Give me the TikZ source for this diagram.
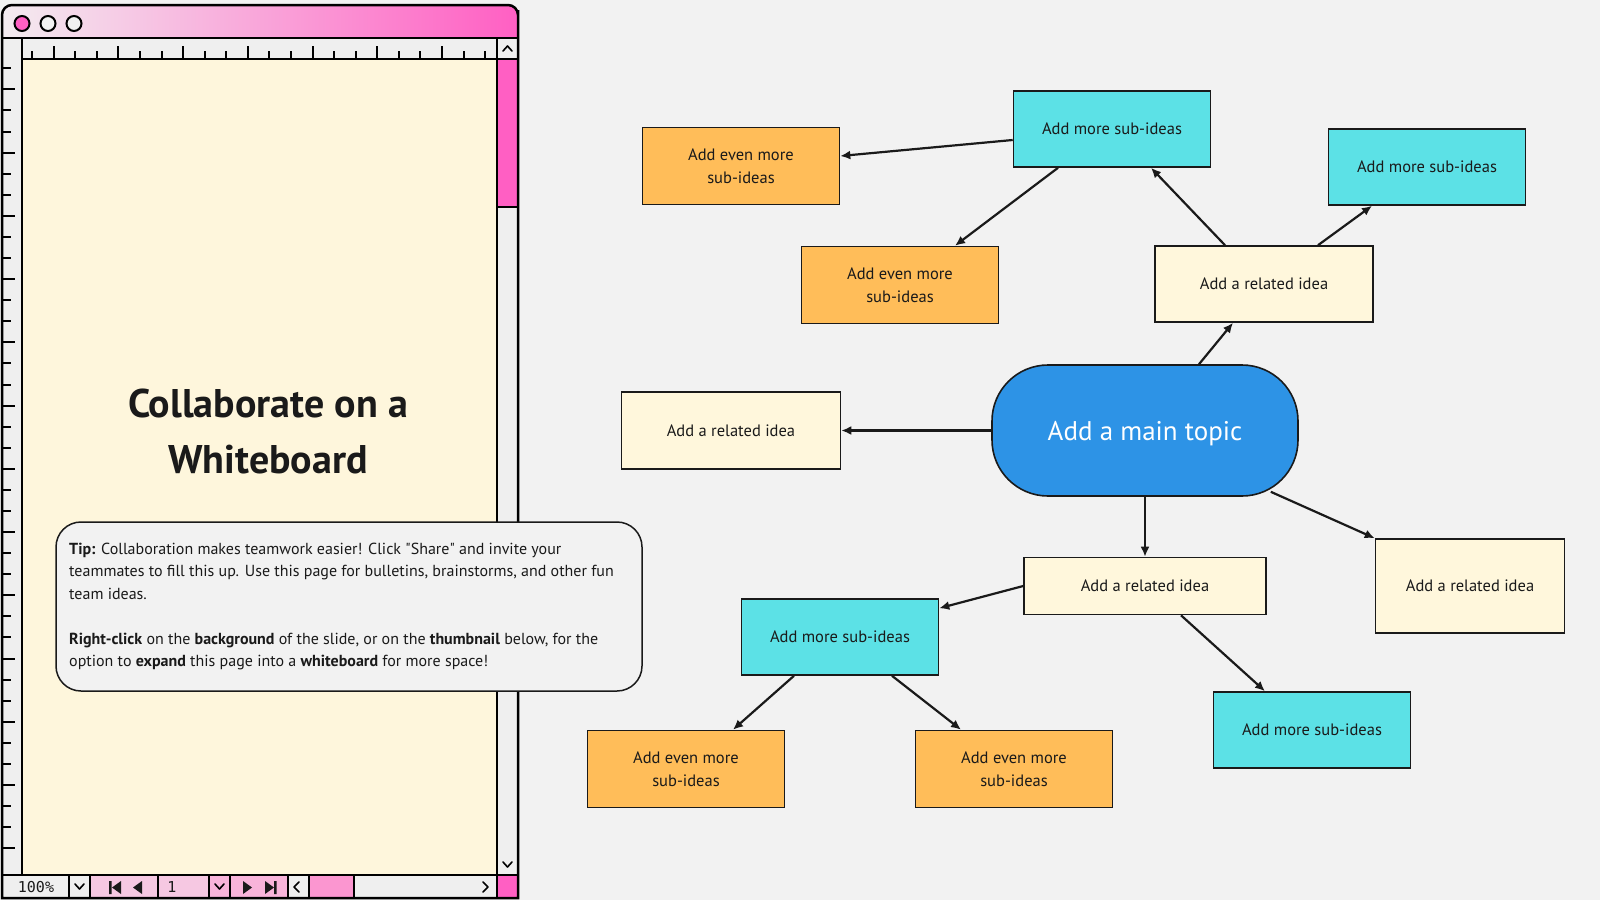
\documentclass[tikz,border=0pt]{standalone}
\usepackage{fontspec}
\setmainfont{PT Sans}
\newfontfamily\monofont{DejaVu Sans Mono}
\usetikzlibrary{arrows.meta}
\definecolor{canvas}{HTML}{F2F2F2}
\definecolor{paper}{HTML}{FEF6DC}
\definecolor{chrome}{HTML}{EFEFEF}
\definecolor{hotpink}{HTML}{FF5FC3}
\definecolor{pinkA}{HTML}{F6C8E2}
\definecolor{pinkB}{HTML}{F8B4DA}
\definecolor{pinkC}{HTML}{FB96D0}
\definecolor{paletop}{HTML}{F3ECF0}
\definecolor{midtop}{HTML}{F7BDDD}
\definecolor{topic}{HTML}{2D93E6}
\definecolor{cyanbox}{HTML}{5CE1E6}
\definecolor{orangebox}{HTML}{FFBD59}
\definecolor{creambox}{HTML}{FFF7DC}
\definecolor{ink}{HTML}{1A1A1A}

\begin{document}
\begin{tikzpicture}[x=1pt,y=-1pt,
  box/.style={draw=ink,line width=1.6pt,text=ink,inner sep=0pt,align=center,font=\fontsize{16.5}{23.5}\selectfont},
  idea/.style={box,fill=creambox},
  subidea/.style={box,fill=cyanbox,minimum width=197pt,minimum height=76pt},
  moreidea/.style={box,fill=orangebox,minimum width=197pt,minimum height=77pt},
  link/.style={draw=ink,line width=2.2pt,-{Latex[length=10pt,width=9pt]}},
  ruletick/.style={line width=2pt},
  chev/.style={line width=1.6pt,line cap=round,line join=round}]
\useasboundingbox (0,0) rectangle (1600,900);
\fill[canvas] (0,0) rectangle (1600,900);

\fill[paper] (22,59) rectangle (497,875);
\fill[chrome] (2,38) rectangle (497,59);
\fill[chrome] (2,59) rectangle (22,875);
\fill[chrome] (497,38) rectangle (518,875);
\fill[hotpink] (497,59) rectangle (518,207);
\shade[left color=paletop,middle color=midtop,right color=hotpink] (2,38) -- (2,20) [rounded corners=10pt] -- (2,5) -- (518,5) -- (518,20) [sharp corners] -- (518,38) -- cycle;
\foreach \i in {0,...,21}{
  \pgfmathsetmacro\len{mod(\i,3)==1 ? 13 : 8}
  \draw[ruletick] (32.1+21.57*\i,59) -- ++(0,-\len);
}
\foreach \i in {0,...,37}{
  \pgfmathsetmacro\len{mod(\i,3)==1 ? 13 : 9}
  \draw[ruletick] (2,68.3+21.08*\i) -- ++(\len,0);
}
\draw[line width=2pt] (2,38) -- (518,38) (22,38) -- (22,875) (497,38) -- (497,875) (22,59) -- (518,59) (497,207) -- (518,207);
\draw[chev] (503,51) -- (507.5,46) -- (512,51);
\draw[chev] (503,862) -- (507.5,867) -- (512,862);

\foreach \xa/\xb/\col in {2/69/chrome,69/90/chrome,90/158/pinkA,158/209/pinkA,209/230/pinkB,230/288/pinkB,288/309/chrome,309/354/pinkC,354/497/chrome,497/518/hotpink}
  \draw[fill=\col,line width=1.5pt] (\xa,875) rectangle (\xb,898);
\node[font=\monofont\fontsize{15}{15}\selectfont,text=ink] (zoom) at (36,887) {100\%};
\node[font=\monofont\fontsize{15}{15}\selectfont,text=ink] (pageno) at (172,887) {1};
\draw[chev] (75,884) -- (79.5,889) -- (84,884);
\draw[chev] (215,884) -- (219.5,889) -- (224,884);
\draw[chev] (299,882) -- (294,887) -- (299,892);
\draw[chev] (483,882) -- (488,887) -- (483,892);
\fill[ink] (109,881) rectangle (111.5,894) (121,881) -- (121,894) -- (112,887.5) -- cycle;
\fill[ink] (142,881) -- (142,894) -- (133,887.5) -- cycle;
\fill[ink] (243,881) -- (243,894) -- (252,887.5) -- cycle;
\fill[ink] (265,881) -- (265,894) -- (274,887.5) -- cycle (274,881) rectangle (276.5,894);

\draw[line width=2.5pt] (2,898) -- (2,20) [rounded corners=10pt] -- (2,5) -- (518,5) -- (518,20) [sharp corners] -- (518,898) -- cycle;
\draw[line width=2pt,fill=hotpink] (22,23.5) circle (7.5pt);
\draw[line width=2pt,fill=canvas] (48,23.5) circle (7.5pt) (74,23.5) circle (7.5pt);

\node[font=\bfseries\fontsize{40}{56}\selectfont,align=center,text=ink] (title) at (268,431) {Collaborate on a\\Whiteboard};

\draw[line width=1.5pt,draw=ink,fill=canvas,rounded corners=25pt] (56,522) rectangle (642,691);
\node[anchor=west,align=left,inner sep=0pt,text=ink,font=\fontsize{16}{22.5}\selectfont] (tip) at (69,606.5) {\textbf{Tip:} Collaboration makes teamwork easier! Click \textquotedbl Share\textquotedbl{} and invite your\\teammates to fill this up. Use this page for bulletins, brainstorms, and other fun\\team ideas.\\[22.5pt]\textbf{Right-click} on the \textbf{background} of the slide, or on the \textbf{thumbnail} below, for the\\option to \textbf{expand} this page into a \textbf{whiteboard} for more space!};

\node[box,fill=topic,text=white,rounded corners=56pt,minimum width=306pt,minimum height=131pt,font=\fontsize{27}{30}\selectfont] (main) at (1145,430.5) {\raisebox{0pt}[\height][0pt]{Add a main topic}};
\node[idea,minimum width=218pt,minimum height=76pt] (rel1) at (1264,284) {Add a related idea};
\node[idea,minimum width=219pt,minimum height=77pt] (rel2) at (731,430.5) {Add a related idea};
\node[idea,minimum width=242pt,minimum height=57pt] (rel3) at (1145,586) {Add a related idea};
\node[idea,minimum width=189pt,minimum height=94pt] (rel4) at (1470,586) {Add a related idea};
\node[subidea] (sub1) at (1112,129) {Add more sub-ideas};
\node[subidea] (sub2) at (1427,167) {Add more sub-ideas};
\node[subidea] (sub3) at (840,637) {Add more sub-ideas};
\node[subidea] (sub4) at (1312,730) {Add more sub-ideas};
\node[moreidea] (more1) at (741,166) {Add even more\\sub-ideas};
\node[moreidea] (more2) at (900,285) {Add even more\\sub-ideas};
\node[moreidea] (more3) at (686,769) {Add even more\\sub-ideas};
\node[moreidea] (more4) at (1014,769) {Add even more\\sub-ideas};

\draw[link] ([xshift=54pt]main.north) -- ([xshift=-31pt]rel1.south);
\draw[link] ([xshift=-39pt]rel1.north) -- ([xshift=39pt]sub1.south);
\draw[link] ([xshift=54pt]rel1.north) -- ([xshift=-55pt]sub2.south);
\draw[link] ([yshift=-11pt]sub1.west) -- ([yshift=10pt]more1.east);
\draw[link] ([xshift=-54pt]sub1.south) -- ([xshift=55pt]more2.north);
\draw[link] (main.west) -- (rel2.east);
\draw[link] (main.south) -- (rel3.north);
\draw[link] ([xshift=-28pt,yshift=5pt]main.south east) -- (rel4.north west);
\draw[link] (rel3.west) -- ([yshift=-10pt]sub3.north east);
\draw[link] ([xshift=36pt]rel3.south) -- ([xshift=-47pt]sub4.north);
\draw[link] ([xshift=-46pt]sub3.south) -- ([xshift=47pt]more3.north);
\draw[link] ([xshift=52pt]sub3.south) -- ([xshift=-53pt]more4.north);
\end{tikzpicture}
\end{document}
